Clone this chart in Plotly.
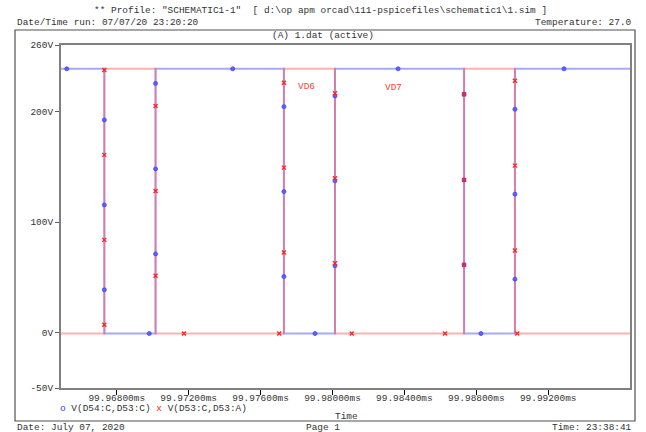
import plotly.graph_objects as go

# ---------------- data ----------------
t_start = 99.96490
t_end = 99.99655
# blue falls at odd edges, rises at even edges (red is complementary)
edge_times = [99.96731, 99.97016, 99.97730, 99.98014, 99.98732, 99.99015]
v_high = 238.5
v_low = -0.8

blue_mk_t = [99.96522, 99.96731, 99.96731, 99.96731, 99.96981,
             99.97016, 99.97016, 99.97016, 99.97445,
             99.97730, 99.97730, 99.97730, 99.97903,
             99.98014, 99.98014, 99.98014, 99.98365,
             99.98732, 99.98732, 99.98732, 99.98826,
             99.99015, 99.99015, 99.99015, 99.99288]
blue_mk_v = [238.5, 192.3, 115.5, 38.8, -0.8,
             225.3, 148.0, 71.2, 238.5,
             204.3, 127.5, 50.7, -0.8,
             213.9, 137.2, 60.4, 238.5,
             215.5, 138.1, 61.3, -0.8,
             201.9, 125.2, 48.4, 238.5]

red_mk_t = [99.96731, 99.96731, 99.96731, 99.96731,
            99.97016, 99.97016, 99.97016, 99.97174, 99.97704,
            99.97730, 99.97730, 99.97730,
            99.98014, 99.98014, 99.98014, 99.98107, 99.98626,
            99.98732, 99.98732, 99.98732,
            99.99015, 99.99015, 99.99015, 99.99028]
red_mk_v = [237.4, 160.7, 83.9, 7.1,
            204.9, 128.1, 51.4, -0.8, -0.8,
            225.9, 149.2, 72.4,
            216.4, 139.6, 62.8, -0.8, -0.8,
            215.5, 138.1, 61.3,
            227.7, 151.0, 74.2, -0.8]

x_tick_vals = [99.968, 99.972, 99.976, 99.980, 99.984, 99.988, 99.992]
x_tick_text = ["99.96800ms", "99.97200ms", "99.97600ms", "99.98000ms",
               "99.98400ms", "99.98800ms", "99.99200ms"]
y_tick_vals = [-50, 0, 100, 200, 260]
y_tick_text = ["-50V", "0V", "100V", "200V", "260V"]

blue_name = "V(D54:C,D53:C)"
red_name = "V(D53:C,D53:A)"

# ---------------- build square waves ----------------
def square(first, second):
    xs = [t_start]
    ys = [first]
    levels = [first, second]
    cur = 0
    for t in edge_times:
        xs += [t, t]
        ys += [levels[cur], levels[1 - cur]]
        cur = 1 - cur
    xs.append(t_end)
    ys.append(levels[cur])
    return xs, ys

bx, by = square(v_high, v_low)
rx, ry = square(v_low, v_high)

FONT = "Liberation Mono, Courier New, monospace"
FS = 9.45
TC = "#333333"

fig = go.Figure()
fig.add_trace(go.Scatter(x=bx, y=by, mode="lines",
                         line=dict(color="rgba(110,110,255,0.6)", width=2),
                         showlegend=False, hoverinfo="skip"))
fig.add_trace(go.Scatter(x=rx, y=ry, mode="lines",
                         line=dict(color="rgba(255,80,80,0.45)", width=2),
                         showlegend=False, hoverinfo="skip"))
fig.add_trace(go.Scatter(x=blue_mk_t, y=blue_mk_v, mode="markers", name=blue_name,
                         marker=dict(symbol="circle", size=4, color="#6060ff",
                                     line=dict(color="#4040ff", width=0.8)),
                         showlegend=False))
fig.add_trace(go.Scatter(x=red_mk_t, y=red_mk_v, mode="markers", name=red_name,
                         marker=dict(symbol="x-thin", size=4, color="#ff2020",
                                     line=dict(color="#ff2020", width=1.3)),
                         showlegend=False))

L, R, T, B = 61, 16, 45, 44
W, H = 646, 432
PW, PH = W - L - R, H - T - B

def px(x):
    return (x - L) / PW

def py(y):
    return (H - B - y) / PH

ann = [
    dict(text='** Profile: "SCHEMATIC1-1"  [ d:\\op apm orcad\\111-pspicefiles\\schematic1\\1.sim ]',
         x=px(320), y=py(11), xanchor="center"),
    dict(text="Date/Time run: 07/07/20 23:20:20", x=px(15), y=py(22.5), xanchor="left"),
    dict(text="Temperature: 27.0", x=px(634), y=py(22.5), xanchor="right"),
    dict(text="(A) 1.dat (active)", x=px(323), y=py(35.5), xanchor="center"),
    dict(text="<span style='color:#3030ff'>o</span> " + blue_name +
              " <span style='color:#ff2020'>x</span> " + red_name,
         x=px(58), y=py(408), xanchor="left"),
    dict(text="Time", x=px(346), y=py(416), xanchor="center"),
    dict(text="Date: July 07, 2020", x=px(15), y=py(427), xanchor="left"),
    dict(text="Page 1", x=px(323), y=py(427), xanchor="center"),
    dict(text="Time: 23:38:41", x=px(634), y=py(427), xanchor="right"),
]
annotations = []
for a in ann:
    a.update(xref="paper", yref="paper", yanchor="middle", showarrow=False,
             font=dict(family=FONT, size=FS, color=TC))
    annotations.append(a)

annotations.append(dict(text="VD6", x=99.97858, y=222.3, xref="x", yref="y",
                        showarrow=False, font=dict(family=FONT, size=FS, color="#ff4040")))
annotations.append(dict(text="VD7", x=99.98337, y=222.0, xref="x", yref="y",
                        showarrow=False, font=dict(family=FONT, size=FS, color="#ff4040")))

fig.update_layout(
    width=W, height=H, autosize=False,
    margin=dict(l=L, r=R, t=T, b=B, pad=0),
    paper_bgcolor="white", plot_bgcolor="white",
    font=dict(family=FONT, size=FS, color=TC),
    annotations=annotations,
    shapes=[dict(type="rect", xref="paper", yref="paper",
                 x0=px(15), x1=px(635), y0=py(421), y1=py(30),
                 line=dict(color="#505050", width=1.2), layer="below")],
)
fig.update_xaxes(range=[t_start, t_end], showgrid=False, zeroline=False,
                 showline=True, mirror=True, linecolor="#808080", linewidth=2,
                 ticks="outside", ticklen=5, tickcolor="#000000", tickwidth=1,
                 tickvals=x_tick_vals, ticktext=x_tick_text,
                 ticklabelstandoff=-5,
                 tickfont=dict(family=FONT, size=FS, color=TC))
fig.update_yaxes(range=[-50, 260], showgrid=False, zeroline=False,
                 showline=True, mirror=True, linecolor="#808080", linewidth=2,
                 ticks="outside", ticklen=4, tickcolor="#606060", tickwidth=1,
                 tickvals=y_tick_vals, ticktext=y_tick_text,
                 tickfont=dict(family=FONT, size=FS, color=TC))

fig.write_html("out.html")
